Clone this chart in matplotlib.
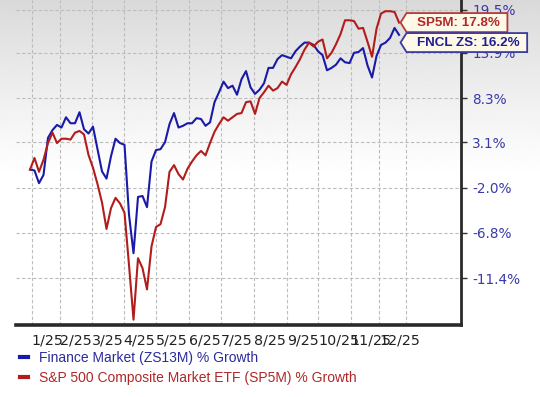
import numpy as np
import matplotlib
matplotlib.use("Agg")
import matplotlib.pyplot as plt
from matplotlib.lines import Line2D
from matplotlib.patches import Polygon

# ---------------- data (cumulative % growth, sampled every 3 trading days) ----------------
finance_growth = [
    0.0, -0.1, -1.5, -0.6, 3.6, 4.5, 5.1, 4.8, 6.0, 5.3,
    5.3, 6.6, 4.6, 4.1, 4.9, 2.3, -0.2, -1.0, 1.5, 3.5,
    3.0, 2.8, -4.9, -8.9, -3.0, -2.9, -4.1, 0.9, 2.2, 2.3,
    3.1, 5.2, 6.5, 4.8, 5.0, 5.3, 5.3, 5.9, 5.8, 5.0,
    5.4, 7.8, 9.0, 10.3, 9.5, 9.8, 8.7, 10.6, 11.6, 9.6,
    8.8, 9.3, 10.1, 12.0, 12.0, 13.1, 13.6, 13.4, 13.2, 14.1,
    14.7, 15.2, 15.2, 14.9, 14.1, 13.6, 11.7, 12.0, 12.4, 13.2,
    12.7, 12.6, 13.9, 14.0, 14.5, 12.3, 10.8, 13.5, 14.9, 15.2,
    15.8, 17.1, 16.2,
]
sp500_growth = [
    0.0, 1.3, -0.25, 1.1, 3.0, 4.2, 3.0, 3.5, 3.5, 3.4,
    4.2, 4.4, 4.0, 1.65, 0.2, -1.6, -3.6, -6.4, -4.2, -3.1,
    -3.7, -4.7, -10.1, -15.4, -9.4, -10.4, -12.5, -8.2, -6.2, -5.9,
    -4.1, -0.25, 0.5, -0.5, -1.1, 0.1, 0.9, 1.6, 2.1, 1.6,
    3.0, 4.3, 5.2, 6.0, 5.6, 6.0, 6.4, 6.5, 7.8, 7.9,
    6.4, 8.3, 9.0, 9.8, 9.2, 9.5, 10.3, 9.9, 11.2, 12.1,
    13.1, 14.3, 15.2, 14.7, 15.3, 15.6, 13.2, 13.9, 15.0, 16.3,
    18.1, 18.1, 18.0, 17.0, 17.1, 15.3, 13.4, 17.0, 19.0, 19.3,
    19.3, 19.2, 17.8,
]
day_step = 3  # trading days between samples

month_labels = ["1/25", "2/25", "3/25", "4/25", "5/25", "6/25", "7/25",
                "8/25", "9/25", "10/25", "11/25", "12/25", ""]
month_start_day = [1.1, 20.2, 41.1, 62.5, 84.0, 105.7, 127.1,
                   149.5, 171.1, 192.2, 213.8, 232.9, 250.7]
y_tick_values = [-11.4, -6.8, -2.0, 3.1, 8.3, 13.9, 19.5]

series_names = ["Finance Market (ZS13M) % Growth",
                "S&P 500 Composite Market ETF (SP5M) % Growth"]
callout_names = ["FNCL ZS", "SP5M"]

# ---------------- style ----------------
BLUE = "#1a1aa8"
RED = "#b21c1c"
BLUE_TXT = "#2b2b9c"
RED_TXT = "#b02828"

W, H = 540, 397
fig = plt.figure(figsize=(W / 100, H / 100), dpi=100)

# background gradient (grey at top fading to white)
bg = fig.add_axes([0, 0, 1, 1], zorder=-10)
rows = np.arange(H)
shade = 0.85 + 0.15 * np.clip(rows / 175.0, 0, 1) ** 0.9
img = np.repeat(shade[:, None], 4, axis=1)
bg.imshow(img, cmap="gray", vmin=0, vmax=1, aspect="auto",
          extent=[0, 1, 0, 1], interpolation="bilinear")
bg.axis("off")

ax_left, ax_right, ax_top, ax_bottom = 16, 461, 0, 325
ax = fig.add_axes([ax_left / W, (H - ax_bottom) / H,
                   (ax_right - ax_left) / W, (ax_bottom - ax_top) / H])
ax.patch.set_alpha(0)

days = np.arange(len(finance_growth)) * day_step


def fwd(y):
    return np.log1p(np.asarray(y, dtype=float) / 100.0)


def inv(v):
    return np.expm1(np.asarray(v, dtype=float)) * 100.0


ax.set_yscale("function", functions=(fwd, inv))
ax.plot(days, finance_growth, color=BLUE, lw=1.5, zorder=3, solid_joinstyle="round")
ax.plot(days, sp500_growth, color=RED, lw=1.5, zorder=4, solid_joinstyle="round")

ax.set_xlim(-9.33, 287.3)
ax.set_ylim(-15.9, 20.8)

# x axis
ax.set_xticks(month_start_day)
ax.set_xticklabels(month_labels, ha="left")
ax.tick_params(axis="x", length=0, pad=6, labelsize=10.3, labelcolor="#222222")

# y axis on the right
ax.yaxis.tick_right()
ax.set_yticks(y_tick_values)
ax.set_yticklabels([f"{v:.1f}%" for v in y_tick_values])
ax.yaxis.set_minor_locator(matplotlib.ticker.NullLocator())
ax.tick_params(axis="y", length=4, width=1, color="#333333", pad=4,
               labelsize=9.8, labelcolor="#3a3aa8")

ax.grid(True, color="#bcbcbc", linestyle=(0, (3, 2)), linewidth=0.8)
ax.set_axisbelow(True)

for s in ("top", "left"):
    ax.spines[s].set_visible(False)
ax.spines["right"].set_linewidth(2)
ax.spines["right"].set_color("#2a2a2a")
ax.spines["bottom"].set_linewidth(2.6)
ax.spines["bottom"].set_color("#2a2a2a")

# legend
handles = [Line2D([], [], color=BLUE, lw=3), Line2D([], [], color=RED, lw=3)]
fig.legend(handles, series_names, loc="upper left",
           bbox_to_anchor=(20 / W, (H - 351) / H), frameon=False,
           handlelength=0.6, handletextpad=0.75, labelspacing=0.45,
           borderpad=0, borderaxespad=0,
           prop={"family": "Liberation Sans", "size": 10},
           labelcolor=[BLUE_TXT, RED_TXT])

# ---------------- callouts ----------------
fig.canvas.draw()
last_x = days[-1]
tip_sp = ax.transData.transform((last_x, sp500_growth[-1]))
tip_fn = ax.transData.transform((last_x, finance_growth[-1]))

box_h = 19
notch = 6


def callout(tip_x, tip_y, text, txt_color, edge_color):
    t = fig.text(tip_x + 16, tip_y, text, transform=None, ha="left", va="center",
                 fontsize=9.6, fontweight="bold", family="Liberation Sans",
                 color=txt_color, zorder=12)
    fig.canvas.draw()
    bb = t.get_window_extent()
    x0 = tip_x + notch
    x1 = bb.x1 + 8
    y0 = tip_y - box_h / 2
    y1 = tip_y + box_h / 2
    poly = Polygon([(tip_x, tip_y), (x0, y1), (x1, y1), (x1, y0), (x0, y0)],
                   closed=True, transform=None, facecolor="#fdf8e8",
                   edgecolor=edge_color, lw=1.3, zorder=11)
    fig.add_artist(poly)
    return y0


sp_tip_x = tip_sp[0] + 1.5
sp_tip_y = tip_sp[1]
sp_bottom = callout(sp_tip_x, sp_tip_y, f"{callout_names[1]}: {sp500_growth[-1]:.1f}%",
                    RED_TXT, "#b83a3a")
fn_tip_y = min(tip_fn[1], sp_bottom - 1 - box_h / 2)
callout(sp_tip_x, fn_tip_y, f"{callout_names[0]}: {finance_growth[-1]:.1f}%",
        "#1f1f8f", "#3a3aa0")

fig.savefig("out.png", dpi=100)
